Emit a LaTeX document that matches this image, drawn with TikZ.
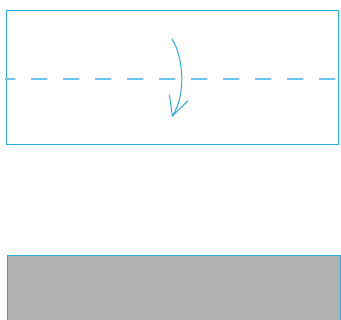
\documentclass[tikz,border=0pt]{standalone}
\usetikzlibrary{calc}
\definecolor{foldblue}{HTML}{29ABE2}
\definecolor{dashblue}{HTML}{6EC6EC}
\definecolor{paper}{HTML}{B2B2B4}
\tikzset{
  edge/.style={draw=foldblue, line width=1pt},
  foldline/.style={draw=dashblue, line width=1.2pt, dash pattern=on 16pt off 16pt, dash phase=6pt},
  arrowline/.style={draw=foldblue, line width=1pt, line cap=round}
}
\begin{document}
\begin{tikzpicture}[x=1pt,y=-1pt]
\useasboundingbox (0,0) rectangle (341,320);
\clip (0,0) rectangle (341,320);
\coordinate (tl) at (6.5,10.5);
\coordinate (br) at (338.5,144.5);
\path[edge] (tl) rectangle (br);
\coordinate (fl) at (5,79);
\coordinate (fr) at (336,79);
\path[foldline] (fl) -- (fr);
\coordinate (as) at (172,39);
\coordinate (ae) at (172.3,116);
\coordinate (hl) at (169.5,95);
\coordinate (hr) at (187.7,101);
\path[arrowline] (as) .. controls (184,58) and (186,96) .. (ae);
\path[arrowline] (hl) -- (ae) -- (hr);
\coordinate (btl) at (7.7,255.7);
\coordinate (bbr) at (340.2,330);
\path[edge, line width=1.3pt, fill=paper] (btl) rectangle (bbr);
\end{tikzpicture}
\end{document}
